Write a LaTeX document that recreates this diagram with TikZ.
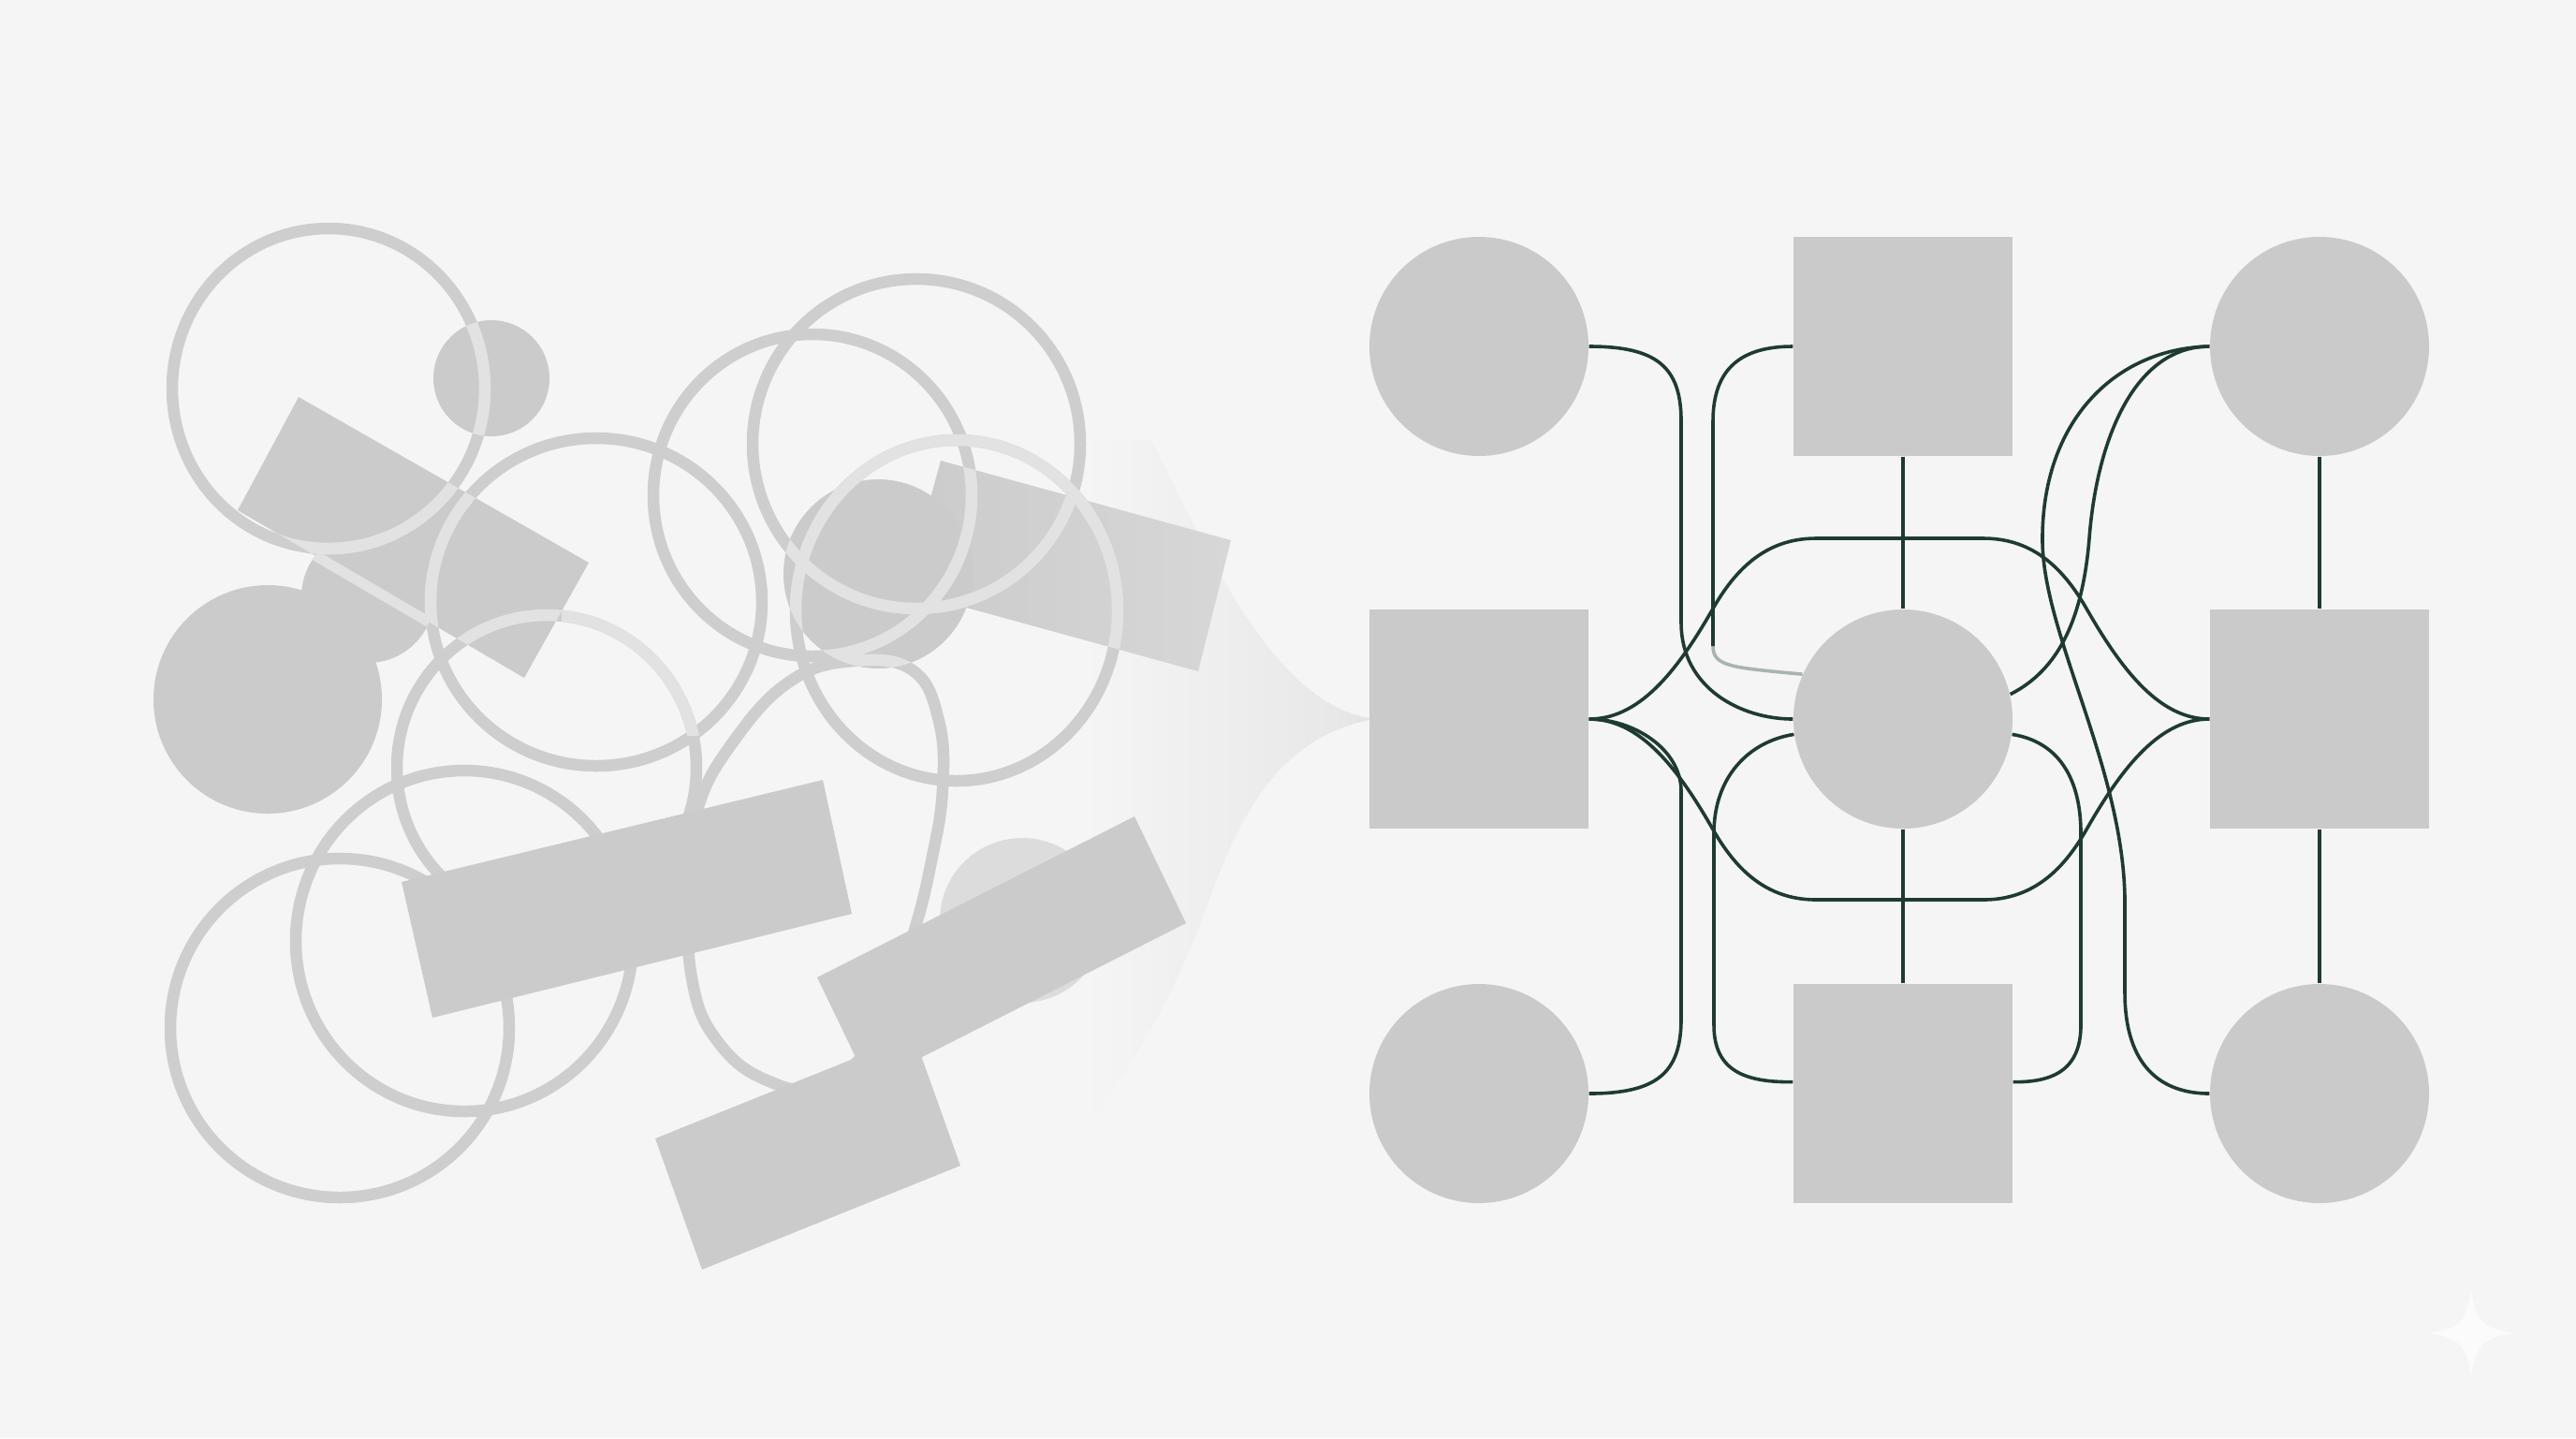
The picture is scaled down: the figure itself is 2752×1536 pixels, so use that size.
\documentclass[tikz,border=0pt]{standalone}
\definecolor{bg}{HTML}{F5F5F5}
\definecolor{shapegray}{HTML}{CBCBCB}
\definecolor{shapelight}{HTML}{D7D7D7}
\definecolor{fadegray}{HTML}{DCDCDC}
\definecolor{ringgray}{HTML}{CECECE}
\definecolor{ringlight}{HTML}{E2E2E2}
\definecolor{nodegray}{HTML}{CACACA}
\definecolor{funnelmid}{HTML}{E8E8E8}
\definecolor{funneltip}{HTML}{D0D0D0}
\definecolor{linegreen}{HTML}{1E3B2F}
\definecolor{sparkcol}{HTML}{FBFBFB}
\pgfdeclarehorizontalshading{funnelshade}{100bp}{color(0bp)=(bg); color(35bp)=(bg); color(70bp)=(funnelmid); color(100bp)=(funneltip)}
\tikzset{
  ring/.style={draw=ringgray, line width=1.25mm},
  conn/.style={draw=linegreen, line width=0.36mm},
  nodecirc/.style={circle, fill=nodegray, draw=none, minimum size=23.4mm, inner sep=0pt},
  nodesq/.style={rectangle, fill=nodegray, draw=none, minimum size=23.4mm, inner sep=0pt},
}
\newcommand\ringsall[1]{%
  \draw[ring, draw=#1] (351,415) ellipse [x radius=167, y radius=171];
  \draw[ring, draw=#1] (637,643) ellipse [x radius=177, y radius=175];
  \draw[ring, draw=#1] (868,529) ellipse [x radius=170, y radius=172];
  \draw[ring, draw=#1] (979,474) ellipse [x radius=175, y radius=176];
  \draw[ring, draw=#1] (1022,652) ellipse [x radius=172, y radius=182];
  \draw[ring, draw=#1] (584,820) ellipse [x radius=160, y radius=163];
  \draw[ring, draw=#1] (496,1005) ellipse [x radius=180, y radius=182];
  \draw[ring, draw=#1] (363,1098) ellipse [x radius=181, y radius=181];
  \draw[ring, draw=#1] plot[smooth cycle, tension=0.7] coordinates {(912,706) (975,716) (1003,770) (1007,843) (995,920) (975,1000) (940,1100) (880,1160) (815,1152) (765,1110) (740,1050) (735,960) (745,865) (785,790) (845,727)};
}
\begin{document}
\begin{tikzpicture}[x=0.1mm,y=-0.1mm]
\useasboundingbox (0,0) rectangle (2752,1536);
\fill[bg] (0,0) rectangle (2752,1536);

% ---------- funnel towards the grid (behind the shapes) ----------
\shade[shading=funnelshade] (1080,470) -- (1230,470)
  .. controls (1290,590) and (1360,750) .. (1463,767) -- (1463,769)
  .. controls (1360,790) and (1320,880) .. (1285,980)
  .. controls (1255,1060) and (1210,1140) .. (1160,1205) -- (1080,1205) -- cycle;

% ---------- left: scattered shapes (base fills) ----------
\fill[shapegray] (286,747) circle [radius=122];
\fill[shapegray] (393,637) circle [radius=71];
\fill[shapegray] (525,404) circle [radius=62];
\fill[shapegray] (319,424) -- (629,601) -- (560,724) -- (254,545) -- cycle;
\shade[left color=shapegray, right color=shapelight] (1005,492) -- (1315,577) -- (1280,717) -- (967,631) -- cycle;
\fill[shapegray] (938,613) circle [radius=101];

% light seam of the tilted rectangle over the circle behind it
\begin{scope}
  \clip (393,637) circle [radius=71];
  \draw[draw=ringlight, line width=1.1mm] (254,545) -- (560,724);
\end{scope}

% ---------- rings ----------
\ringsall{ringgray}
\begin{scope}\clip (525,404) circle [radius=62]; \ringsall{ringlight}\end{scope}
\begin{scope}\clip (286,747) circle [radius=122]; \ringsall{ringlight}\end{scope}
\begin{scope}\clip (393,637) circle [radius=71]; \ringsall{ringlight}\end{scope}
\begin{scope}\clip (938,613) circle [radius=101]; \ringsall{ringlight}\end{scope}
\begin{scope}\clip (319,424) -- (629,601) -- (560,724) -- (254,545) -- cycle; \ringsall{ringlight}\end{scope}
\begin{scope}\clip (1005,492) -- (1315,577) -- (1280,717) -- (967,631) -- cycle; \ringsall{ringlight}\end{scope}
\begin{scope}\clip (800,250) rectangle (1250,560);
  \draw[ring, draw=ringlight] (1022,652) ellipse [x radius=172, y radius=182];\end{scope}
\begin{scope}\clip (600,600) rectangle (770,785);
  \draw[ring, draw=ringlight] (584,820) ellipse [x radius=160, y radius=163];\end{scope}

% ---------- top layer of the scattered shapes ----------
\fill[fadegray] (1092,983) circle [radius=88];
\fill[shapegray] (429,942) -- (879,833) -- (910,976) -- (462,1087) -- cycle;
\fill[shapegray] (873,1044) -- (1212,872) -- (1267,986) -- (928,1158) -- cycle;
\fill[shapegray] (700,1216) -- (976,1105) -- (1026,1245) -- (750,1356) -- cycle;

% ---------- right: ordered grid ----------
\node[nodecirc] (n11) at (1580,370) {};
\node[nodesq]   (n12) at (2033,370) {};
\node[nodecirc] (n13) at (2478,370) {};
\node[nodesq]   (n21) at (1580,768) {};
\node[nodecirc] (n22) at (2033,768) {};
\node[nodesq]   (n23) at (2478,768) {};
\node[nodecirc] (n31) at (1580,1168) {};
\node[nodesq]   (n32) at (2033,1168) {};
\node[nodecirc] (n33) at (2478,1168) {};

\draw[conn] (n12.south) -- (n22.north);
\draw[conn] (n22.south) -- (n32.north);
\draw[conn] (n13.south) -- (n23.north);
\draw[conn] (n23.south) -- (n33.north);

% top-left circle to centre
\draw[conn] (n11.east) .. controls (1770,370) and (1796,392) .. (1796,450) -- (1796,665)
  .. controls (1796,735) and (1860,768) .. (n22.west);
% top square to centre (faded end)
\coordinate (fk) at (1830,690);
\draw[conn] (n12.west) .. controls (1862,370) and (1830,392) .. (1830,450) -- (fk);
\draw[conn, draw opacity=0.35] (fk) .. controls (1830,712) and (1850,713) .. (n22.156);
% upper and lower bridges
\draw[conn] (n21.east) .. controls (1750,768) and (1790,720) .. (1830,650)
  .. controls (1853,610) and (1885,575) .. (1940,575) -- (2119,575)
  .. controls (2174,575) and (2206,610) .. (2229,650)
  .. controls (2269,720) and (2309,768) .. (n23.west);
\draw[conn] (n21.east) .. controls (1750,768) and (1790,816) .. (1830,886)
  .. controls (1853,926) and (1885,961) .. (1940,961) -- (2119,961)
  .. controls (2174,961) and (2206,926) .. (2229,886)
  .. controls (2269,816) and (2309,768) .. (n23.west);
% bottom-left circle to middle-left square
\draw[conn] (n31.east) .. controls (1770,1168) and (1796,1146) .. (1796,1088) -- (1796,845)
  .. controls (1796,800) and (1745,768) .. (n21.east);
% centre to bottom square, both sides
\draw[conn] (n22.188) .. controls (1868,792) and (1831,830) .. (1831,890) -- (1831,1095)
  .. controls (1831,1145) and (1866,1156) .. (n32.174);
\draw[conn] (n22.-8) .. controls (2198,792) and (2223,830) .. (2223,890) -- (2223,1095)
  .. controls (2223,1145) and (2190,1156) .. (n32.6);
% centre to top-right circle
\draw[conn] (n22.13) .. controls (2200,715) and (2225,660) .. (2232,575)
  .. controls (2240,470) and (2280,370) .. (n13.west);
% top-right circle to bottom-right circle
\draw[conn] (n13.west) .. controls (2260,372) and (2180,450) .. (2182,580)
  .. controls (2184,680) and (2268,820) .. (2270,960) -- (2270,1060)
  .. controls (2270,1140) and (2310,1168) .. (n33.west);

% ---------- sparkle mark ----------
\fill[sparkcol] (2640,1377) .. controls (2645,1412) and (2652,1419) .. (2687,1424)
  .. controls (2652,1429) and (2645,1436) .. (2640,1471)
  .. controls (2635,1436) and (2628,1429) .. (2593,1424)
  .. controls (2628,1419) and (2635,1412) .. (2640,1377) -- cycle;
\end{tikzpicture}
\end{document}
